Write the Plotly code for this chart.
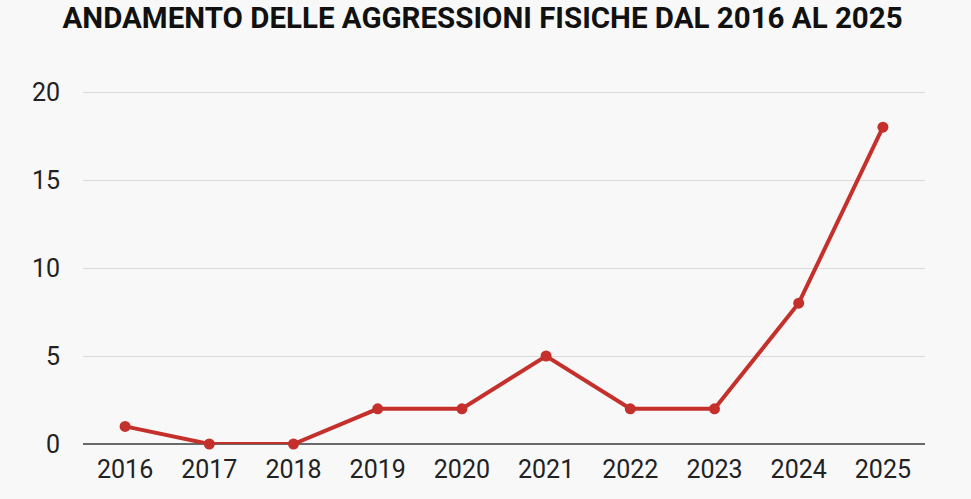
import plotly.graph_objects as go

years = ["2016", "2017", "2018", "2019", "2020", "2021", "2022", "2023", "2024", "2025"]
values = [1, 0, 0, 2, 2, 5, 2, 2, 8, 18]
y_ticks = [0, 5, 10, 15, 20]

FONT = "Roboto, sans-serif"

fig = go.Figure()
fig.add_trace(go.Scatter(
    x=years, y=values, mode="lines+markers",
    line=dict(color="#c4302b", width=4),
    marker=dict(color="#c4302b", size=11),
    cliponaxis=False, hoverinfo="x+y",
))

# plot area: y=0 at 444px, y=20 at 92px
top_px, bot_px = 88, 55
span = 499 - top_px - bot_px
fig.update_layout(
    width=971, height=499,
    margin=dict(l=83, r=46, t=top_px, b=bot_px, autoexpand=False),
    paper_bgcolor="#f8f8f8", plot_bgcolor="#f8f8f8",
    showlegend=False,
    title=dict(text="<b>ANDAMENTO DELLE AGGRESSIONI FISICHE DAL 2016 AL 2025</b>",
               x=0.497, xanchor="center", y=0.965, yanchor="middle",
               font=dict(family=FONT, size=29.5, color="#111111")),
    font=dict(family=FONT, size=25, color="#222222"),
)
fig.update_xaxes(type="category", range=[-0.5, 9.5], showgrid=False,
                 showline=False, zeroline=False, ticks="", automargin=False,
                 ticklabelstandoff=8,
                 tickfont=dict(family=FONT, size=25, color="#222222"))
fig.update_yaxes(range=[0, 20 * span / (444 - 92)], tickvals=y_ticks, showgrid=True,
                 gridcolor="#dadada", gridwidth=1, automargin=False,
                 zeroline=True, zerolinecolor="#6a6a6a", zerolinewidth=1.5,
                 showline=False, ticks="", ticklabelstandoff=22,
                 tickfont=dict(family=FONT, size=25, color="#222222"))

fig.write_html("out.html", config={"displayModeBar": False},
               post_script="document.body.style.margin='0';document.body.style.background='#f8f8f8';")
